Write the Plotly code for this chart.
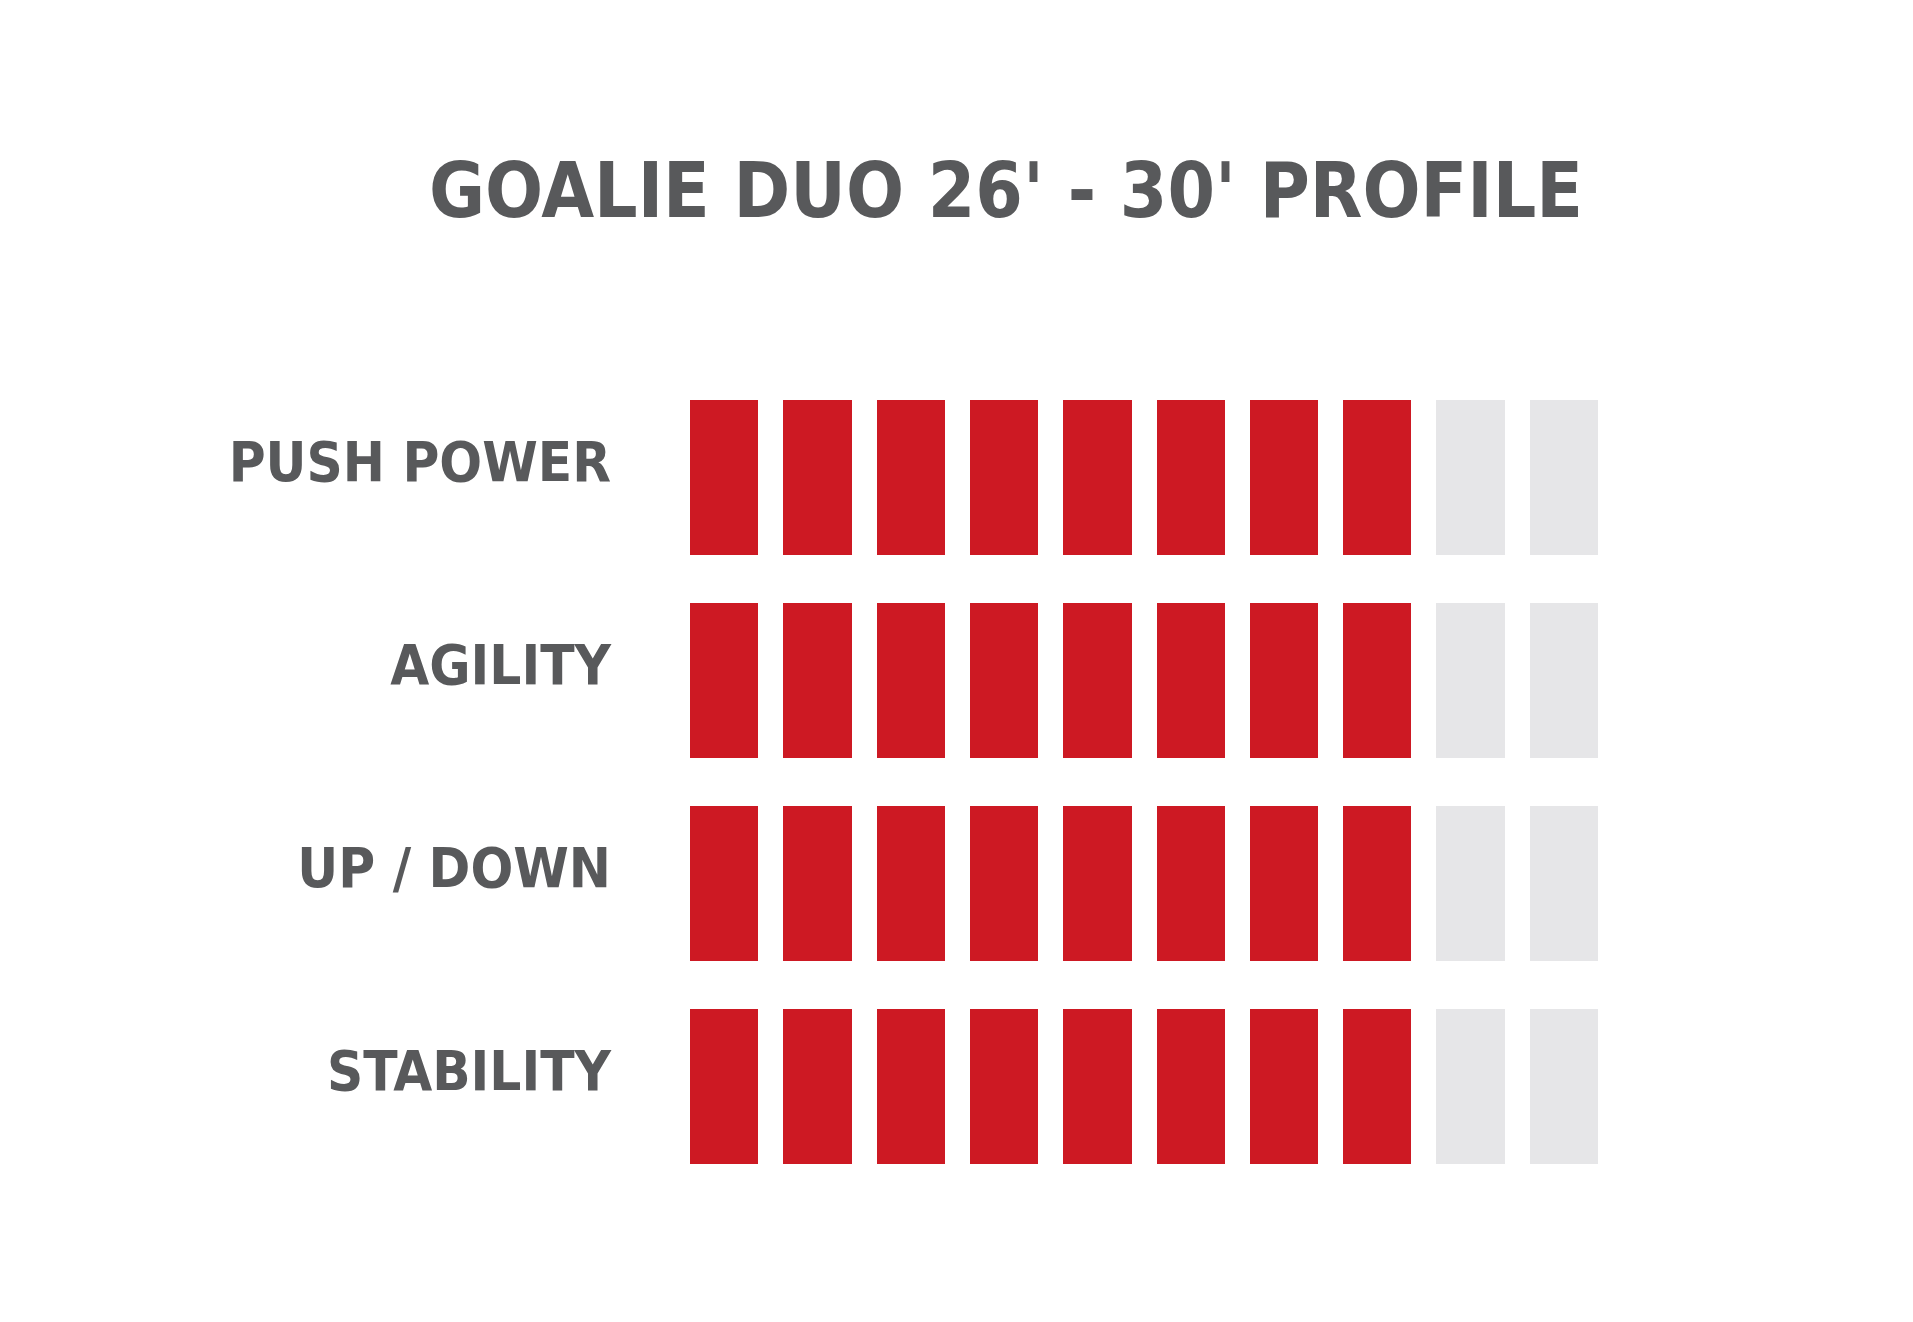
import plotly.graph_objects as go

# ---- data ----
title_text = "GOALIE DUO 26' - 30' PROFILE"
categories = ["PUSH POWER", "AGILITY", "UP / DOWN", "STABILITY"]
scores = [8, 8, 8, 8]
max_score = 10
segments = list(range(1, max_score + 1))

# ---- styles ----
RED = "#CD1923"
GREY = "#E6E6E8"
TEXT = "#58595B"
FONT = "Liberation Sans Narrow, Arial Narrow, DejaVu Sans Condensed, sans-serif"

z = [[1 if s <= v else 0 for s in segments] for v in scores]

fig = go.Figure(
    go.Heatmap(
        x=segments,
        y=categories,
        z=z,
        zmin=0,
        zmax=1,
        colorscale=[[0, GREY], [0.5, GREY], [0.5, RED], [1, RED]],
        showscale=False,
        xgap=25,
        ygap=48,
        hoverinfo="skip",
    )
)

fig.update_layout(
    width=1913,
    height=1322,
    margin=dict(l=670, r=310, t=368, b=142),
    paper_bgcolor="white",
    plot_bgcolor="white",
    title=dict(
        text=title_text,
        x=998 / 1913,
        xref="container",
        xanchor="center",
        y=1 - 182 / 1322,
        yref="container",
        yanchor="middle",
        font=dict(family=FONT, size=76, color=TEXT, weight="bold"),
    ),
    xaxis=dict(
        range=[0.5, max_score + 0.5],
        visible=False,
        showgrid=False,
        zeroline=False,
        fixedrange=True,
    ),
    yaxis=dict(
        type="category",
        categoryorder="array",
        categoryarray=categories,
        autorange="reversed",
        showgrid=False,
        zeroline=False,
        showline=False,
        ticks="",
        ticklabelstandoff=66,
        ticklabelshift=16,
        tickfont=dict(family=FONT, size=56, color=TEXT, weight="bold"),
        fixedrange=True,
    ),
)

fig.write_html("out.html")
